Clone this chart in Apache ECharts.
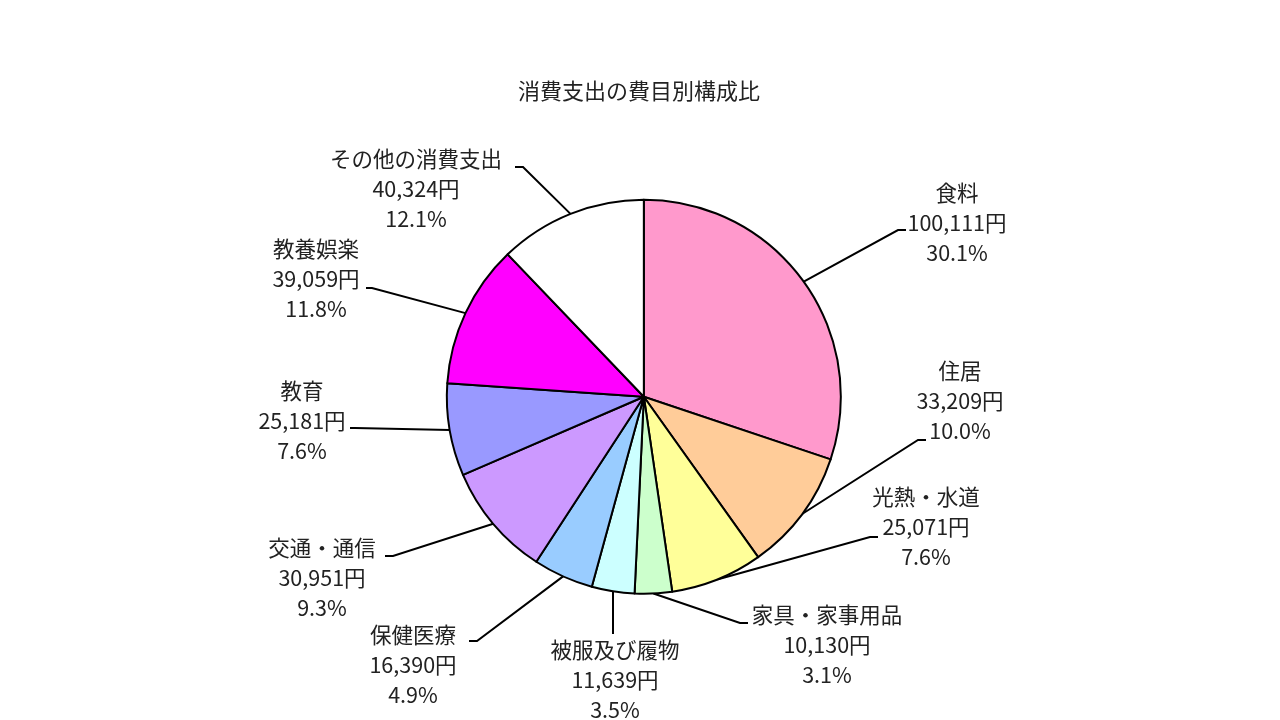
<!DOCTYPE html>
<html><head><meta charset="utf-8">
<script src="https://cdn.jsdelivr.net/npm/echarts@6/dist/echarts.min.js"></script>
<style>html,body{margin:0;padding:0;background:#fff}#c{width:1280px;height:720px}</style>
</head><body><div id="c"></div>
<script>
const categories = ['食料','住居','光熱・水道','家具・家事用品','被服及び履物','保健医療','交通・通信','教育','教養娯楽','その他の消費支出'];
const amounts = [100111,33209,25071,10130,11639,16390,30951,25181,39059,40324];
const percents = ['30.1','10.0','7.6','3.1','3.5','4.9','9.3','7.6','11.8','12.1'];
const colors = ['#FF99CC','#FFCC99','#FFFF99','#CCFFCC','#CCFFFF','#99CCFF','#CC99FF','#9999FF','#FF00FF','#FFFFFF'];
// label placement: text centre x, middle-line y, elbow x, elbow y, end x, end y
const labelPlace = [
  [957,223, 898,230, 906,230],
  [960,401, 918,440, 926,440],
  [926,527, 870,537, 878,537],
  [827,645, 740,623, 748,623],
  [615,680, 612,634, 612,634],
  [413,665, 477,641, 469,641],
  [322,578, 393,556, 385,556],
  [302,421, 355,428, 350,428],
  [316,279, 372,288, 366,288],
  [416,189, 523,167, 515,167]
];
const FONT = '"Noto Sans CJK JP", "Noto Sans", sans-serif';
const chart = echarts.init(document.getElementById('c'), null, {renderer:'canvas'});
const data = categories.map((c,i)=>({name:c, value:amounts[i], itemStyle:{color:colors[i]}}));
chart.setOption({
  animation:false,
  backgroundColor:'#fff',
  title:{text:'消費支出の費目別構成比', left:634, top:75, textAlign:'center',
    textStyle:{fontFamily:FONT, fontSize:22, fontWeight:'normal', color:'#222'}},
  series:[{
    type:'pie',
    center:['50.3%','55.1%'],
    radius:197,
    startAngle:90,
    clockwise:true,
    avoidLabelOverlap:false,
    emphasis:{disabled:true},
    itemStyle:{borderColor:'#000', borderWidth:2},
    label:{show:true, position:'outside', fontFamily:FONT, fontSize:21.5, lineHeight:30, color:'#222',
      formatter:p=>p.name+'\n'+amounts[p.dataIndex].toLocaleString('en-US')+'円\n'+percents[p.dataIndex]+'%'},
    labelLine:{show:true, length:20, length2:10, lineStyle:{color:'#000', width:2}},
    labelLayout:function(params){
      const L = labelPlace[params.dataIndex];
      const p0 = params.labelLinePoints ? params.labelLinePoints[0] : [L[2],L[3]];
      let elbow = [L[2],L[3]], end=[L[4],L[5]];
      if (params.dataIndex===4){ elbow=[p0[0],L[3]]; end=[p0[0],L[5]]; }
      return {x:L[0], y:L[1], align:'center', verticalAlign:'middle', labelLinePoints:[p0, elbow, end]};
    },
    data:data
  }]
});
</script></body></html>
